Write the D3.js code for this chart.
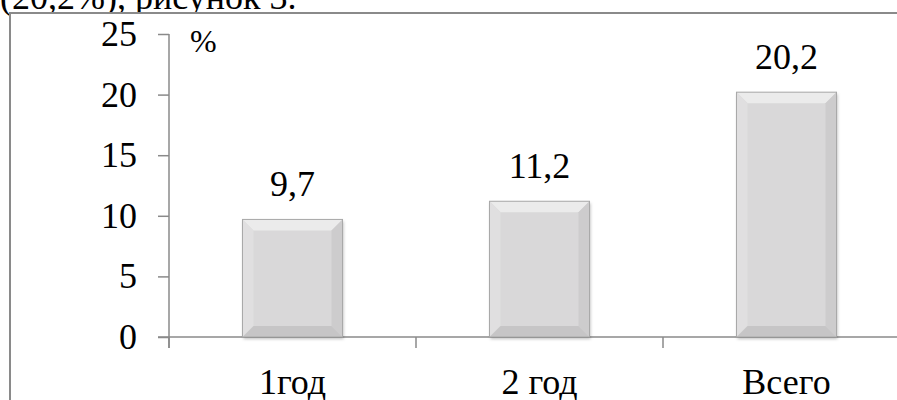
<!DOCTYPE html>
<html><head><meta charset="utf-8">
<script src="https://cdn.jsdelivr.net/npm/d3@7"></script>
<style>html,body{margin:0;padding:0;background:#fff;overflow:hidden;width:897px;height:400px;} svg{display:block;overflow:hidden;}</style>
</head><body>
<svg id="chart" width="897" height="400"></svg>
<script>
const categories = ["1год", "2 год", "Всего"];
const values = [9.7, 11.2, 20.2];
const valueLabels = ["9,7", "11,2", "20,2"];
const yTicks = [0, 5, 10, 15, 20, 25];
const unitLabel = "%";
const headerText = "(20,2%), рисунок 3.";

const svg = d3.select("#chart");
const font = "'Liberation Serif', 'Times New Roman', serif";
const axisColor = "#8a8a8a";

// header text partially hidden behind chart box
svg.append("text").attr("x", 0).attr("y", 9).attr("font-family", font).attr("font-size", 36)
  .attr("fill", "#000").text(headerText);

// chart box (extends beyond the visible area on the right and bottom)
svg.append("path").attr("d", "M897,13 H10 V400")
  .attr("fill", "none").attr("stroke", "#8a8a8a").attr("stroke-width", 2);
svg.append("rect").attr("x", 11).attr("y", 14).attr("width", 886).attr("height", 386).attr("fill", "#fff");

const defs = svg.append("defs");
const f = defs.append("filter").attr("id", "sh").attr("x", "-20%").attr("y", "-20%").attr("width", "140%").attr("height", "140%");
f.append("feDropShadow").attr("dx", 1).attr("dy", 2).attr("stdDeviation", 1.5).attr("flood-color", "#000").attr("flood-opacity", 0.25);

const x = d3.scaleBand().domain(categories).range([169, 910]).padding(0);
const y = d3.scaleLinear().domain([0, 25]).range([337, 34]);
const bw = x.bandwidth() * 0.405;

// y axis
const yAxis = d3.axisLeft(y).tickValues(yTicks).tickSize(11).tickPadding(21).tickFormat(d => d);
const gy = svg.append("g").attr("transform", "translate(169,0)").call(yAxis);
gy.select(".domain").remove();
gy.selectAll(".tick line").attr("stroke", axisColor).attr("stroke-width", 1.5);
gy.selectAll(".tick text").attr("font-family", font).attr("font-size", 36).attr("fill", "#000");
svg.append("line").attr("x1", 169).attr("x2", 169).attr("y1", y(25)).attr("y2", y(0) + 11)
  .attr("stroke", axisColor).attr("stroke-width", 1.5);

// x axis
svg.append("line").attr("x1", 158).attr("x2", 910).attr("y1", y(0)).attr("y2", y(0))
  .attr("stroke", axisColor).attr("stroke-width", 1.5);
const bounds = categories.map(c => x(c));
svg.selectAll(".xt").data(bounds).enter().append("line")
  .attr("x1", d => d).attr("x2", d => d).attr("y1", y(0)).attr("y2", y(0) + 11)
  .attr("stroke", axisColor).attr("stroke-width", 1.5);

// bars with bevel
const bev = 11;
const bars = svg.selectAll(".bar").data(values).enter().append("g").attr("class", "bar");
bars.each(function(v, i) {
  const g = d3.select(this);
  const cx = x(categories[i]) + x.bandwidth() / 2;
  const x0 = cx - bw / 2, x1 = cx + bw / 2, y0 = y(v), y1 = y(0);
  g.append("rect").attr("x", x0).attr("y", y0).attr("width", bw).attr("height", y1 - y0)
    .attr("fill", "#d9d8d9").attr("filter", "url(#sh)");
  const poly = (pts, fill) => g.append("polygon").attr("points", pts.map(p => p.join(",")).join(" ")).attr("fill", fill);
  poly([[x0, y0], [x1, y0], [x1 - bev, y0 + bev], [x0 + bev, y0 + bev]], "#ebebeb");
  poly([[x0, y0], [x0 + bev, y0 + bev], [x0 + bev, y1 - bev], [x0, y1]], "#e0dfe0");
  poly([[x1, y0], [x1, y1], [x1 - bev, y1 - bev], [x1 - bev, y0 + bev]], "#cdcccd");
  poly([[x0, y1], [x0 + bev, y1 - bev], [x1 - bev, y1 - bev], [x1, y1]], "#c6c5c6");
  g.append("rect").attr("x", x0).attr("y", y0).attr("width", bw).attr("height", y1 - y0)
    .attr("fill", "none").attr("stroke", "#a8a8a8").attr("stroke-width", 1);
  g.append("text").attr("x", cx).attr("y", y0 - 23).attr("text-anchor", "middle")
    .attr("font-family", font).attr("font-size", 36).attr("fill", "#000").text(valueLabels[i]);
});

// category labels
svg.selectAll(".cat").data(categories).enter().append("text")
  .attr("x", d => x(d) + x.bandwidth() / 2).attr("y", 394).attr("text-anchor", "middle")
  .attr("font-family", font).attr("font-size", 36).attr("fill", "#000").text(d => d);

// unit label
svg.append("text").attr("x", 190).attr("y", 52).attr("font-family", font).attr("font-size", 32)
  .attr("fill", "#000").text(unitLabel);
</script>
</body></html>
